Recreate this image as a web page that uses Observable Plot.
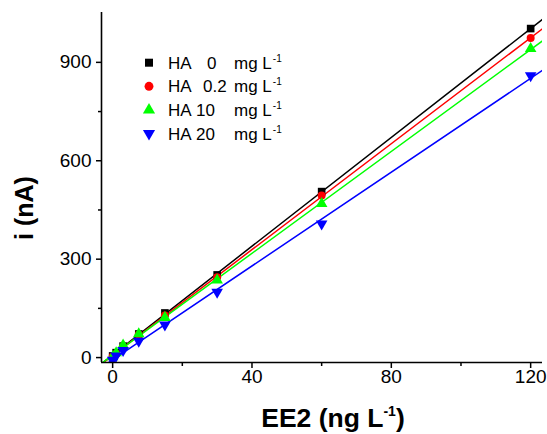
<!DOCTYPE html>
<html><head><meta charset="utf-8">
<script src="https://cdn.jsdelivr.net/npm/d3@7"></script>
<script src="https://cdn.jsdelivr.net/npm/@observablehq/plot@0.6"></script>
<style>body{margin:0;background:#fff;}</style>
</head><body><div id="chart"></div>
<script>
// EE2 concentration (ng L-1)
const ee2 = [0, 1, 3, 7.5, 15, 30, 60, 120];
// current (nA) for each humic-acid level
const iHA0  = [5, 15, 35, 72, 136, 252, 506, 1003];
const iHA02 = [3, 12, 33, 70, 128, 245, 494, 974];
const iHA10 = [2, 14, 38, 72, 122, 236, 469, 942];
const iHA20 = [-8, 5, 22, 50, 100, 200, 408, 860];
const haLevels = ["0", "0.2", "10", "20"];
const seriesValues = [iHA0, iHA02, iHA10, iHA20];
const colors = ["#000000", "#ff0000", "#00ff00", "#0000ff"];
const xTicks = [0, 40, 80, 120];
const xMinor = [20, 60, 100];
const yTicks = [0, 300, 600, 900];
const yMinor = [150, 450, 750];
const xDomain = [-3.2, 123.4];
const yDomain = [-15, 1052];

const triangleDown = {
  draw(context, size) {
    const s3 = Math.sqrt(3);
    const y = -Math.sqrt(size / (s3 * 3));
    context.moveTo(0, -y * 2);
    context.lineTo(-s3 * y, y);
    context.lineTo(s3 * y, y);
    context.closePath();
  }
};
const symbolsPlot = ["square", "circle", "triangle", triangleDown];
const symbolsD3 = [d3.symbolSquare, d3.symbolCircle, d3.symbolTriangle, triangleDown];

const points = seriesValues.map((vals, k) => ee2.map((x, j) => ({x, i: vals[j], s: k})));
// least-squares fit per series, drawn across the x domain
const fits = points.map((rows, k) => {
  const mx = d3.mean(rows, d => d.x), my = d3.mean(rows, d => d.i);
  const b = d3.sum(rows, d => (d.x - mx) * (d.i - my)) / d3.sum(rows, d => (d.x - mx) ** 2);
  const a = my - b * mx;
  return xDomain.map(x => ({x, i: a + b * x, s: k}));
});

const font = "Liberation Sans, Arial, Helvetica, sans-serif";
const plot = Plot.plot({
  width: 547, height: 434,
  marginLeft: 101, marginRight: 5, marginTop: 12, marginBottom: 72,
  style: {fontFamily: font, background: "white", color: "black", fontSize: "19px"},
  x: {domain: xDomain, label: null},
  y: {domain: yDomain, label: null},
  marks: [
    Plot.axisX({ticks: xTicks, tickSize: 6, tickPadding: 1, fontSize: 19, label: null, strokeWidth: 1.5}),
    Plot.axisX(xMinor, {tickSize: 4, tickFormat: () => "", label: null, strokeWidth: 1.5}),
    Plot.axisY({ticks: yTicks, tickSize: 5, tickPadding: 5, fontSize: 19, label: null, strokeWidth: 1.5}),
    Plot.axisY(yMinor, {tickSize: 3, tickFormat: () => "", label: null, strokeWidth: 1.5}),
    ...fits.map((f, k) => Plot.line(f, {x: "x", y: "i", stroke: colors[k], strokeWidth: 1.5, clip: true})),
    ...points.map((p, k) => Plot.dot(p, {x: "x", y: "i", fill: colors[k], symbol: symbolsPlot[k], r: k === 1 ? 4 : 4.3, clip: true})),
    Plot.ruleX([xDomain[0]], {strokeWidth: 1.6}),
    Plot.ruleY([yDomain[0]], {strokeWidth: 1.6})
  ]
});
document.getElementById("chart").appendChild(plot);

const svg = d3.select(plot);
// legend
const lg = svg.append("g").attr("font-family", font).attr("font-size", 17)
  .attr("fill", "black").attr("text-anchor", "start");
const levelX = [207, 203, 196, 196];
haLevels.forEach((lv, k) => {
  const cy = 62.7 + k * 23.6;
  lg.append("path").attr("d", d3.symbol(symbolsD3[k], k === 1 ? 62 : 64)())
    .attr("transform", `translate(149,${cy})`).attr("fill", colors[k]);
  lg.append("text").attr("x", 168).attr("y", cy + 6).text("HA");
  lg.append("text").attr("x", levelX[k]).attr("y", cy + 6).text(lv);
  const t = lg.append("text").attr("x", 234).attr("y", cy + 6);
  t.append("tspan").text("mg L");
  t.append("tspan").attr("font-size", 10).attr("dx", 1).attr("dy", -7).text("-1");
});
// axis titles
const xt = svg.append("text").attr("x", 333).attr("y", 427).attr("text-anchor", "middle")
  .attr("font-family", font).attr("font-weight", "bold").attr("font-size", 26.5).attr("fill", "black");
xt.append("tspan").text("EE2 (ng L");
xt.append("tspan").attr("font-size", 14).attr("dy", -11).text("-1");
xt.append("tspan").attr("dy", 11).text(")");
svg.append("text").attr("transform", "translate(33,208) rotate(-90)").attr("text-anchor", "middle")
  .attr("font-family", font).attr("font-weight", "bold").attr("font-size", 25).attr("fill", "black")
  .text("i (nA)");
</script>
</body></html>
